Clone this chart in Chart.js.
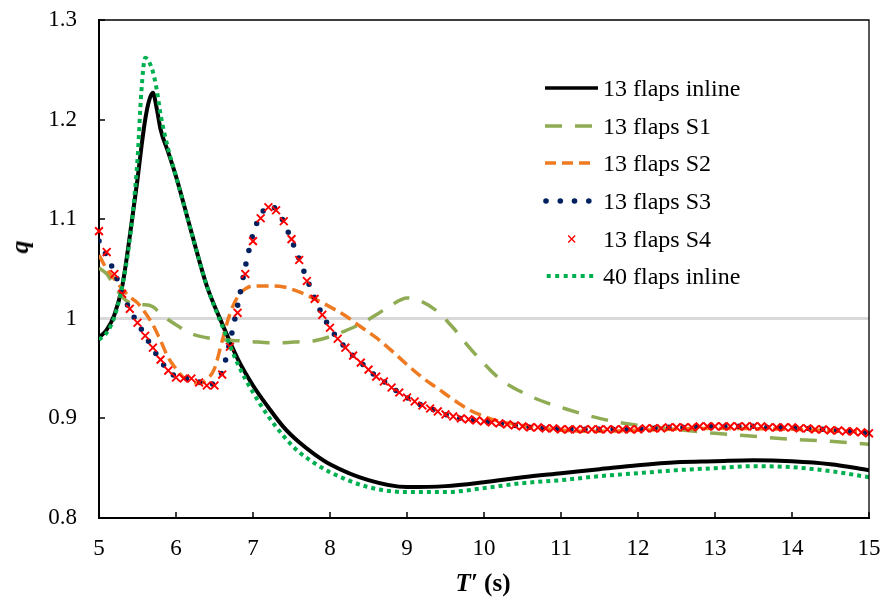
<!DOCTYPE html>
<html>
<head>
<meta charset="utf-8">
<script src="https://cdn.jsdelivr.net/npm/chart.js@4.4.1/dist/chart.umd.min.js"></script>
<style>
  body { margin: 0; background: #fff; }
  #wrap { position: relative; width: 881px; height: 597px; font-family: "Liberation Serif", "Times New Roman", serif; color: #000; }
  #legend { position: absolute; left: 543px; top: 69.5px; }
  .row { display: flex; align-items: center; height: 37.6px; }
  .row svg { width: 58px; height: 12px; margin-right: 2px; }
  .row span { font-size: 24px; line-height: 1; white-space: nowrap; }
  #ytitle { position: absolute; left: 20px; top: 247px; transform: translate(-50%, -50%) rotate(-90deg); font-weight: bold; font-style: italic; font-size: 26px; }
  #xtitle { position: absolute; left: 483px; top: 583px; transform: translate(-50%, -50%); font-weight: bold; font-size: 25px; white-space: nowrap; }
</style>
</head>
<body>
<div id="wrap">
  <canvas id="chart" width="881" height="597"></canvas>
  <div id="legend">
    <div class="row"><svg><line x1="2" y1="6" x2="55" y2="6" stroke="#000" stroke-width="3.5"/></svg><span>13 flaps inline</span></div>
    <div class="row"><svg><line x1="2" y1="6" x2="55" y2="6" stroke="#8fac55" stroke-width="3.5" stroke-dasharray="17 13"/></svg><span>13 flaps S1</span></div>
    <div class="row"><svg><line x1="2" y1="6" x2="49" y2="6" stroke="#ee7a22" stroke-width="3.5" stroke-dasharray="11 6"/></svg><span>13 flaps S2</span></div>
    <div class="row"><svg><circle cx="3" cy="6" r="2.8" fill="#002060"/><circle cx="17.3" cy="6" r="2.8" fill="#002060"/><circle cx="31.5" cy="6" r="2.8" fill="#002060"/><circle cx="45.8" cy="6" r="2.8" fill="#002060"/></svg><span>13 flaps S3</span></div>
    <div class="row"><svg><path d="M25.2 2.5 L32.2 9.5 M32.2 2.5 L25.2 9.5" stroke="#ff0000" stroke-width="1.3"/></svg><span>13 flaps S4</span></div>
    <div class="row"><svg><line x1="3.7" y1="6" x2="50.3" y2="6" stroke="#00b050" stroke-width="4" stroke-dasharray="4 4.5"/></svg><span>40 flaps inline</span></div>
  </div>
  <div id="ytitle">q</div>
  <div id="xtitle"><i>T′</i> (s)</div>
</div>
<script>
// T' grid used by the S3 / S4 runs (step 0.1 s)
const tFine = [
  5.0, 5.1, 5.2, 5.3, 5.4, 5.5, 5.6, 5.7, 5.8, 5.9,
  6.0, 6.1, 6.2, 6.3, 6.4, 6.5, 6.6, 6.7, 6.8, 6.9,
  7.0, 7.1, 7.2, 7.3, 7.4, 7.5, 7.6, 7.7, 7.8, 7.9,
  8.0, 8.1, 8.2, 8.3, 8.4, 8.5, 8.6, 8.7, 8.8, 8.9,
  9.0, 9.1, 9.2, 9.3, 9.4, 9.5, 9.6, 9.7, 9.8, 9.9,
  10.0, 10.1, 10.2, 10.3, 10.4, 10.5, 10.6, 10.7, 10.8, 10.9,
  11.0, 11.1, 11.2, 11.3, 11.4, 11.5, 11.6, 11.7, 11.8, 11.9,
  12.0, 12.1, 12.2, 12.3, 12.4, 12.5, 12.6, 12.7, 12.8, 12.9,
  13.0, 13.1, 13.2, 13.3, 13.4, 13.5, 13.6, 13.7, 13.8, 13.9,
  14.0, 14.1, 14.2, 14.3, 14.4, 14.5, 14.6, 14.7, 14.8, 14.9,
  15.0
];

// 13 flaps inline
const inlineT = [5.0, 5.1, 5.2, 5.3, 5.4, 5.5, 5.55, 5.6, 5.65, 5.7, 5.75, 5.8, 5.9, 6.0, 6.2, 6.4, 6.6, 6.8, 7.0, 7.2, 7.4, 7.6, 7.8, 8.0, 8.5, 9.0, 9.5, 10.0, 10.5, 11.0, 11.5, 12.0, 12.5, 13.0, 13.5, 14.0, 14.5, 15.0];
const inlineQ = [0.981, 0.989, 1.004, 1.032, 1.083, 1.140, 1.172, 1.200, 1.219, 1.227, 1.211, 1.190, 1.167, 1.143, 1.087, 1.033, 0.995, 0.960, 0.933, 0.911, 0.891, 0.876, 0.864, 0.854, 0.838, 0.831, 0.832, 0.836, 0.841, 0.845, 0.849, 0.853, 0.856, 0.857, 0.858, 0.857, 0.854, 0.848];

// 13 flaps S1
const s1T = [5.0, 5.1, 5.2, 5.3, 5.4, 5.5, 5.6, 5.7, 5.8, 5.9, 6.0, 6.2, 6.4, 6.6, 6.8, 7.0, 7.2, 7.4, 7.6, 7.8, 8.0, 8.2, 8.4, 8.6, 8.8, 9.0, 9.2, 9.4, 9.6, 9.8, 10.0, 10.2, 10.5, 10.8, 11.0, 11.5, 12.0, 12.5, 13.0, 13.5, 14.0, 14.5, 15.0];
const s1Q = [1.051, 1.045, 1.033, 1.022, 1.016, 1.014, 1.014, 1.012, 1.005, 0.999, 0.994, 0.985, 0.981, 0.979, 0.978, 0.977, 0.976, 0.976, 0.977, 0.978, 0.982, 0.988, 0.995, 1.004, 1.014, 1.021, 1.017, 1.007, 0.991, 0.972, 0.955, 0.940, 0.926, 0.916, 0.911, 0.900, 0.893, 0.889, 0.885, 0.882, 0.879, 0.877, 0.874];

// 13 flaps S2
const s2T = [5.0, 5.1, 5.2, 5.3, 5.4, 5.5, 5.6, 5.7, 5.8, 5.9, 6.0, 6.1, 6.2, 6.3, 6.4, 6.5, 6.6, 6.7, 6.8, 6.9, 7.0, 7.2, 7.4, 7.6, 7.8, 8.0, 8.2, 8.4, 8.6, 8.8, 9.0, 9.2, 9.4, 9.6, 9.8, 10.0, 10.2, 10.5, 11.0, 11.5, 12.0, 13.0, 14.0, 15.0];
const s2Q = [1.064, 1.050, 1.040, 1.030, 1.022, 1.016, 1.006, 0.994, 0.978, 0.961, 0.950, 0.941, 0.937, 0.935, 0.939, 0.950, 0.978, 1.005, 1.022, 1.030, 1.033, 1.033, 1.032, 1.027, 1.020, 1.012, 1.003, 0.992, 0.981, 0.968, 0.954, 0.941, 0.930, 0.919, 0.909, 0.902, 0.897, 0.893, 0.888, 0.887, 0.888, 0.890, 0.889, 0.886];

// 13 flaps S3 (on tFine)
const s3Q = [
  1.078, 1.063, 1.047, 1.026, 1.009, 0.996, 0.983, 0.970, 0.958, 0.948,
  0.942, 0.940, 0.940, 0.937, 0.933, 0.936, 0.947, 0.977, 1.013, 1.052,
  1.085, 1.104, 1.113, 1.110, 1.097, 1.079, 1.060, 1.040, 1.021, 1.004,
  0.991, 0.980, 0.971, 0.963, 0.956, 0.949, 0.942, 0.937, 0.931, 0.926,
  0.921, 0.917, 0.913, 0.910, 0.907, 0.904, 0.902, 0.900, 0.899, 0.898,
  0.897, 0.896, 0.895, 0.894, 0.893, 0.892, 0.891, 0.891, 0.890, 0.890,
  0.889, 0.889, 0.889, 0.889, 0.889, 0.889, 0.889, 0.889, 0.889, 0.889,
  0.889, 0.890, 0.890, 0.890, 0.891, 0.891, 0.891, 0.891, 0.892, 0.892,
  0.892, 0.892, 0.892, 0.892, 0.892, 0.892, 0.892, 0.891, 0.891, 0.891,
  0.891, 0.890, 0.890, 0.889, 0.889, 0.888, 0.888, 0.887, 0.887, 0.886,
  0.885
];

// 13 flaps S4 (on tFine)
const s4Q = [
  1.088, 1.067, 1.045, 1.025, 1.010, 0.996, 0.983, 0.971, 0.959, 0.948,
  0.941, 0.940, 0.940, 0.936, 0.933, 0.933, 0.944, 0.972, 1.006, 1.045,
  1.078, 1.101, 1.112, 1.109, 1.098, 1.080, 1.059, 1.038, 1.020, 1.004,
  0.991, 0.980, 0.971, 0.963, 0.956, 0.949, 0.942, 0.937, 0.931, 0.926,
  0.921, 0.917, 0.913, 0.910, 0.907, 0.904, 0.902, 0.900, 0.899, 0.898,
  0.897, 0.896, 0.895, 0.894, 0.893, 0.892, 0.891, 0.891, 0.890, 0.890,
  0.889, 0.889, 0.889, 0.889, 0.889, 0.889, 0.889, 0.889, 0.889, 0.889,
  0.889, 0.890, 0.890, 0.890, 0.891, 0.891, 0.891, 0.891, 0.892, 0.892,
  0.892, 0.892, 0.892, 0.892, 0.892, 0.892, 0.892, 0.891, 0.891, 0.891,
  0.891, 0.890, 0.890, 0.889, 0.889, 0.888, 0.888, 0.887, 0.887, 0.886,
  0.885
];

// 40 flaps inline
const f40T = [5.0, 5.1, 5.2, 5.3, 5.4, 5.5, 5.55, 5.6, 5.65, 5.7, 5.75, 5.8, 5.9, 6.0, 6.2, 6.4, 6.6, 6.8, 7.0, 7.2, 7.4, 7.6, 7.8, 8.0, 8.5, 9.0, 9.5, 10.0, 10.5, 11.0, 11.5, 12.0, 12.5, 13.0, 13.5, 14.0, 14.5, 15.0];
const f40Q = [0.979, 0.986, 1.002, 1.032, 1.080, 1.160, 1.228, 1.262, 1.258, 1.248, 1.230, 1.205, 1.170, 1.143, 1.087, 1.033, 0.993, 0.955, 0.926, 0.902, 0.882, 0.866, 0.855, 0.846, 0.831, 0.826, 0.826, 0.830, 0.835, 0.838, 0.842, 0.845, 0.848, 0.850, 0.852, 0.851, 0.847, 0.841];

const pts = (ts, qs) => ts.map((t, i) => ({ x: t, y: qs[i] }));

const FONT = "'Liberation Serif', 'Times New Roman', serif";

// inside tick marks + top/right frame, like the original plot box
const frame = {
  id: "frame",
  afterDraw(chart) {
    const { ctx, chartArea: a, scales: { x, y } } = chart;
    ctx.save();
    ctx.strokeStyle = "#000";
    ctx.lineWidth = 1.3;
    ctx.beginPath();
    ctx.moveTo(a.left, a.top);
    ctx.lineTo(a.right, a.top);
    ctx.lineTo(a.right, a.bottom);
    ctx.stroke();

    ctx.lineWidth = 1.5;
    ctx.beginPath();
    x.ticks.forEach(t => {
      const px = Math.round(x.getPixelForValue(t.value));
      ctx.moveTo(px, a.bottom);
      ctx.lineTo(px, a.bottom - 6);
    });
    y.ticks.forEach(t => {
      if (Math.abs(t.value - 1) < 1e-6) return; // hidden under the grey reference line
      const py = Math.round(y.getPixelForValue(t.value));
      ctx.moveTo(a.left, py);
      ctx.lineTo(a.left + 6, py);
    });
    ctx.stroke();
    ctx.restore();
  }
};

const lineBase = {
  pointRadius: 0,
  fill: false,
  cubicInterpolationMode: "monotone"
};

new Chart(document.getElementById("chart"), {
  type: "line",
  data: {
    datasets: [
      { ...lineBase, label: "13 flaps inline", data: pts(inlineT, inlineQ), borderColor: "#000", borderWidth: 4, order: 5 },
      { ...lineBase, label: "13 flaps S1", data: pts(s1T, s1Q), borderColor: "#8fac55", borderWidth: 3.5, borderDash: [17, 13], order: 4 },
      { ...lineBase, label: "13 flaps S2", data: pts(s2T, s2Q), borderColor: "#ee7a22", borderWidth: 3.5, borderDash: [12, 6], order: 3 },
      { ...lineBase, label: "13 flaps S3", data: pts(tFine, s3Q), borderColor: "#002060", borderWidth: 5.5, borderDash: [0, 14], borderCapStyle: "round", order: 2 },
      {
        label: "13 flaps S4", data: pts(tFine, s4Q), showLine: false,
        pointStyle: "crossRot", pointRadius: 5.5, pointBorderColor: "#ff0000", pointBackgroundColor: "#ff0000",
        pointBorderWidth: 1.9, clip: 10, order: 1
      },
      { ...lineBase, label: "40 flaps inline", data: pts(f40T, f40Q), borderColor: "#00b050", borderWidth: 4, borderDash: [4, 4], order: 0 }
    ]
  },
  options: {
    responsive: false,
    devicePixelRatio: 1,
    animation: false,
    events: [],
    layout: { padding: { top: 20, right: 12, bottom: 0, left: 0 } },
    plugins: {
      legend: { display: false },
      tooltip: { enabled: false }
    },
    scales: {
      x: {
        type: "linear",
        min: 5,
        max: 15,
        afterFit: s => { s.height = 79; s.paddingLeft = 0; s.paddingRight = 0; },
        ticks: { stepSize: 1, color: "#000", font: { family: FONT, size: 23 }, padding: 17, maxRotation: 0 },
        grid: { color: "rgba(0,0,0,0)", drawTicks: false },
        border: { color: "#000", width: 2 }
      },
      y: {
        min: 0.8,
        max: 1.3,
        afterFit: s => { s.width = 99; s.paddingTop = 0; s.paddingBottom = 0; },
        ticks: {
          stepSize: 0.1,
          color: "#000",
          font: { family: FONT, size: 23 },
          padding: 22,
          callback: v => String(+v.toFixed(1))
        },
        grid: {
          drawTicks: false,
          color: c => (c.tick && Math.abs(c.tick.value - 1) < 1e-6 ? "#d9d9d9" : "rgba(0,0,0,0)"),
          lineWidth: c => (c.tick && Math.abs(c.tick.value - 1) < 1e-6 ? 3 : 0)
        },
        border: { color: "#000", width: 2 }
      }
    }
  },
  plugins: [frame]
});
</script>
</body>
</html>
